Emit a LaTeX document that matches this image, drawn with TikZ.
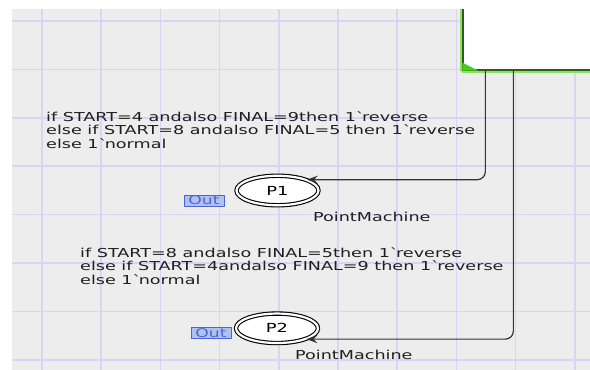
\documentclass[tikz,border=0pt]{standalone}
\usepackage{fontspec}
\setmainfont{DejaVu Sans}[FakeStretch=1.43]
\usetikzlibrary{arrows.meta,shapes.geometric}
\definecolor{canvas}{HTML}{EDEDED}
\definecolor{gridline}{HTML}{D8D4F6}
\definecolor{transgreen}{HTML}{2F5A22}
\definecolor{glow}{HTML}{8EE25C}
\definecolor{corner}{HTML}{49CC22}
\definecolor{portblue}{HTML}{4A66D6}
\definecolor{portfill}{HTML}{B0C0F0}
\newcommand{\tick}{\textasciigrave}

\begin{document}
\begin{tikzpicture}[x=1pt,y=-1pt,>={Stealth[length=11pt,width=8pt,inset=4pt]},line join=round]
  \tikzset{
    inscr/.style={font=\fontsize{12.3}{13.8}\selectfont,align=left,anchor=west,inner sep=0pt,text=black!88},
    place/.style={ellipse,draw=black,line width=1.1pt,double,double distance=2.2pt,fill=white,minimum width=82pt,minimum height=29.5pt,inner sep=0pt,font=\fontsize{12.5}{14}\selectfont},
    colset/.style={font=\fontsize{12.3}{14}\selectfont,anchor=west,inner sep=0pt,text=black!88},
    port/.style={draw=portblue,fill=portfill,text=portblue,line width=0.8pt,inner sep=0pt,minimum width=40pt,minimum height=11pt,font=\fontsize{12}{12}\selectfont},
    arc/.style={draw=black!80,line width=1.2pt,rounded corners=8pt,->}
  }
  \useasboundingbox (0,0) rectangle (590,370);
  \begin{scope}
    \clip (12,9) rectangle (590,370);
    \fill[canvas] (12,9) rectangle (590,370);
    % grid
    \foreach \k in {0,...,9}{\draw[gridline,line width=1.6pt] ({42+59.2*\k},9) -- ({42+59.2*\k},370);}
    \foreach \k in {0,...,7}{\draw[gridline,line width=1.6pt] (12,{21+48.4*\k}) -- (590,{21+48.4*\k});}
    % transition
    \node[draw=transgreen,line width=1.3pt,fill=white,preaction={draw=glow,line width=6pt},minimum width=148pt,minimum height=80pt,inner sep=0pt] (move) at (537,30) {};
    \fill[corner] (move.south west) -- ++(0,-8) -- ++(16,8) -- cycle;
  \end{scope}
  % places
  \node[place] (P1) at (277.5,190.5) {P1};
  \node[place] (P2) at (277,328.3) {P2};
  \node[port] (out1) at (204,200.5) {Out};
  \node[port] (out2) at (211,333.3) {Out};
  \node[colset] (cs1) at (313,217) {PointMachine};
  \node[colset] (cs2) at (295,355) {PointMachine};
  % arc inscriptions
  \node[inscr] (ins1) at (46,130) {if START=4 andalso FINAL=9then 1\tick reverse\\else if START=8 andalso FINAL=5 then 1\tick reverse\\else 1\tick normal};
  \node[inscr] (ins2) at (80,266) {if START=8 andalso FINAL=5then 1\tick reverse\\else if START=4andalso FINAL=9 then 1\tick reverse\\else 1\tick normal};
  % arcs
  \draw[arc] ([xshift=23pt]move.south west) |- (P1.north east);
  \draw[arc] ([xshift=51pt]move.south west) |- (P2.south east);
\end{tikzpicture}
\end{document}
